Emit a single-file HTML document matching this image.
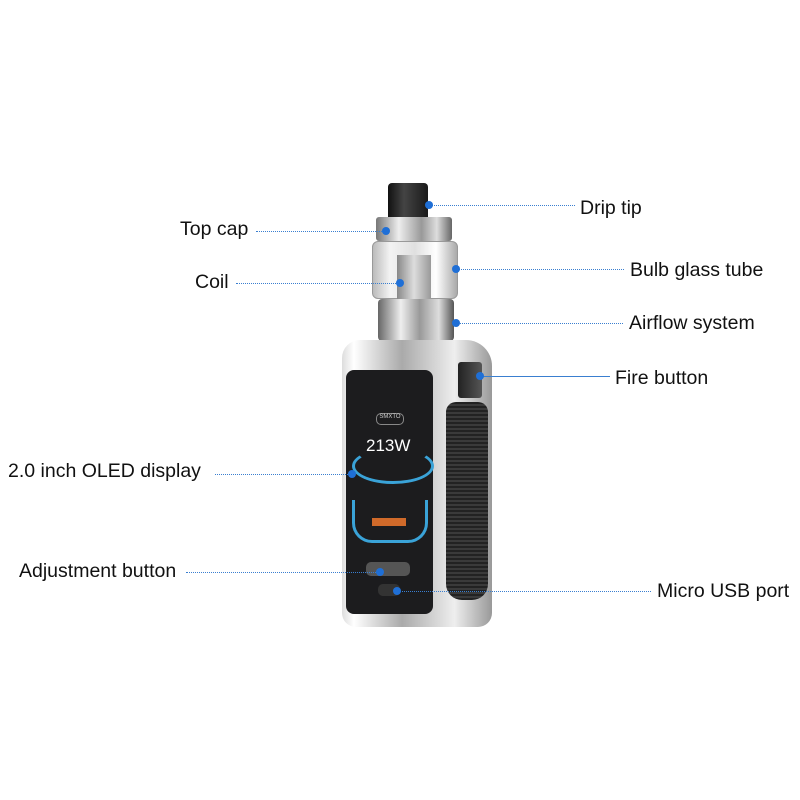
<!DOCTYPE html>
<html><head><style>
body{margin:0;width:800px;height:800px;background:#fff;position:relative;overflow:hidden;font-family:"Liberation Sans",sans-serif}
.a{position:absolute}
.t{position:absolute;font-size:19.5px;color:#111;line-height:20px;white-space:nowrap}
.l{position:absolute;height:0;border-top:1px dotted #3a7fd0}
.d{position:absolute;width:8px;height:8px;border-radius:50%;background:#1f6fd6;margin:-4px 0 0 -4px}
</style></head><body>
<div class="a" style="left:388px;top:183px;width:40px;height:36px;background:linear-gradient(90deg,#111,#444 40%,#1a1a1a);border-radius:4px 4px 0 0"></div>
<div class="a" style="left:376px;top:217px;width:76px;height:24px;background:linear-gradient(90deg,#777,#eee 30%,#999 60%,#ddd 80%,#666);border-radius:3px"></div>
<div class="a" style="left:372px;top:241px;width:86px;height:58px;background:linear-gradient(90deg,#bbb,#f3f3f3 20%,#e0e0e0 50%,#fff 75%,#aaa);border-radius:6px;border:1px solid #999;box-sizing:border-box"></div>
<div class="a" style="left:397px;top:255px;width:34px;height:44px;background:linear-gradient(90deg,#888,#ddd,#999)"></div>
<div class="a" style="left:378px;top:299px;width:76px;height:42px;background:linear-gradient(90deg,#666,#eee 30%,#999 55%,#ddd 80%,#555);border-radius:4px"></div>
<div class="a" style="left:342px;top:340px;width:150px;height:287px;background:linear-gradient(90deg,#ddd,#fff 8%,#aaa 40%,#eee 75%,#999);border-radius:18px 26px 14px 14px"></div>
<div class="a" style="left:346px;top:370px;width:87px;height:244px;background:#1c1c1e;border-radius:8px"></div>
<div class="a" style="left:376px;top:413px;width:26px;height:10px;border:1px solid #888;border-radius:5px;font-size:6px;color:#ccc;text-align:center">SMXTO</div>
<div class="a" style="left:366px;top:436px;color:#fff;font-size:17px">213W</div>
<div class="a" style="left:352px;top:448px;width:76px;height:30px;border:3px solid #3aa3d8;border-radius:50%;border-top-color:transparent"></div>
<div class="a" style="left:352px;top:500px;width:70px;height:40px;border:3px solid #3aa3d8;border-top:none;border-radius:0 0 20px 20px"></div>
<div class="a" style="left:372px;top:518px;width:34px;height:8px;background:#d06a2a"></div>
<div class="a" style="left:366px;top:562px;width:44px;height:14px;background:#555;border-radius:5px"></div>
<div class="a" style="left:378px;top:584px;width:22px;height:12px;background:#333;border-radius:5px"></div>
<div class="a" style="left:446px;top:402px;width:42px;height:198px;background:repeating-linear-gradient(0deg,#222 0 2px,#3a3a3a 2px 4px);border-radius:10px 10px 16px 16px"></div>
<div class="a" style="left:458px;top:362px;width:24px;height:36px;background:linear-gradient(90deg,#222,#555);border-radius:3px"></div>
<div class="t" style="left:580px;top:198px">Drip tip</div>
<div class="l" style="left:429px;top:205px;width:146px"></div><div class="d" style="left:429px;top:205px"></div>
<div class="t" style="left:180px;top:219px">Top cap</div>
<div class="l" style="left:256px;top:231px;width:130px"></div><div class="d" style="left:386px;top:231px"></div>
<div class="t" style="left:195px;top:272px">Coil</div>
<div class="l" style="left:236px;top:283px;width:164px"></div><div class="d" style="left:400px;top:283px"></div>
<div class="t" style="left:630px;top:260px">Bulb glass tube</div>
<div class="l" style="left:456px;top:269px;width:168px"></div><div class="d" style="left:456px;top:269px"></div>
<div class="t" style="left:629px;top:313px">Airflow system</div>
<div class="l" style="left:456px;top:323px;width:167px"></div><div class="d" style="left:456px;top:323px"></div>
<div class="t" style="left:615px;top:368px">Fire button</div>
<div class="l" style="left:480px;top:376px;width:130px;border-top-style:solid"></div><div class="d" style="left:480px;top:376px"></div>
<div class="t" style="left:8px;top:461px">2.0 inch OLED display</div>
<div class="l" style="left:215px;top:474px;width:137px"></div><div class="d" style="left:352px;top:474px"></div>
<div class="t" style="left:19px;top:561px">Adjustment button</div>
<div class="l" style="left:186px;top:572px;width:194px"></div><div class="d" style="left:380px;top:572px"></div>
<div class="t" style="left:657px;top:581px">Micro USB port</div>
<div class="l" style="left:397px;top:591px;width:254px"></div><div class="d" style="left:397px;top:591px"></div>
</body></html>
